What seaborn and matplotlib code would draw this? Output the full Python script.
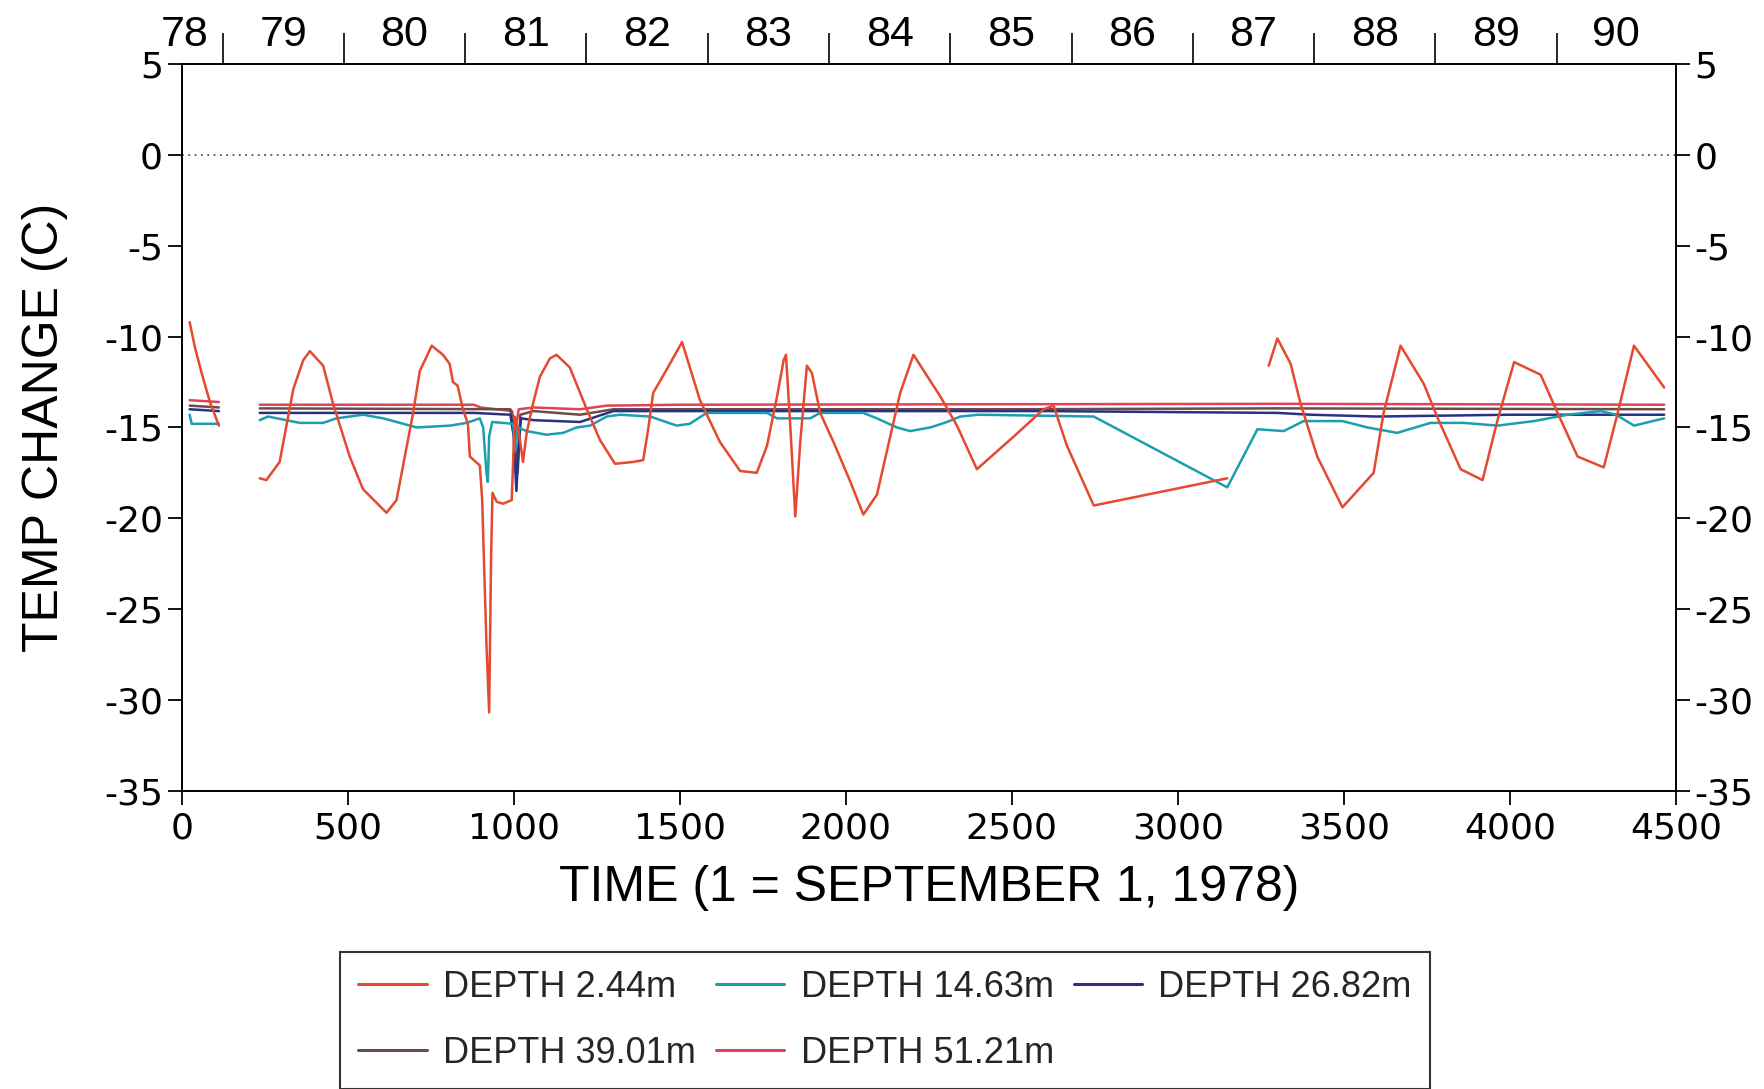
import numpy as np
import pandas as pd
import seaborn as sns
import matplotlib.pyplot as plt
from matplotlib.lines import Line2D

nan = np.nan

# Day number (1 = September 1, 1978) and temperature change (C); NaN marks a gap
d244_day = [24, 40, 60, 85, 112, nan,
            235, 255, 295, 336, 366, 386, 426, 456, 506, 546, 617, 647, 697, 717,
            753, 787, 807, 817, 831, 847, 862, 868, 898, 905, 918, 926, 932, 936,
            949, 968, 994, 1003, 1015, 1028, 1039, 1058, 1079, 1109, 1129, 1169,
            1220, 1260, 1305, 1360, 1390, 1405, 1420, 1461, 1507, 1561, 1621, 1682,
            1732, 1763, 1793, 1813, 1820, 1832, 1848, 1863, 1883, 1898, 1923, 1963,
            2014, 2053, 2094, 2134, 2164, 2204, 2285, 2335, 2395, 2506, 2596, 2626,
            2666, 2747, 3149, nan,
            3274, 3300, 3340, 3370, 3420, 3496, 3590, 3620, 3671, 3741, 3781, 3852,
            3918, 3963, 4013, 4093, 4144, 4204, 4283, 4325, 4374, 4465]
d244_temp = [-9.2, -10.6, -12.0, -13.6, -14.9, nan,
             -17.8, -17.9, -16.9, -12.9, -11.3, -10.8, -11.6, -13.7, -16.6, -18.4, -19.7, -19.0, -14.2, -11.9,
             -10.5, -11.0, -11.5, -12.5, -12.7, -14.0, -14.8, -16.6, -17.1, -19.0, -27.0, -30.7, -22.0, -18.6,
             -19.1, -19.2, -19.0, -14.4, -15.2, -16.9, -15.3, -13.7, -12.2, -11.2, -11.0, -11.7,
             -14.0, -15.7, -17.0, -16.9, -16.8, -15.1, -13.1, -11.8, -10.3, -13.5, -15.8, -17.4,
             -17.5, -16.0, -13.3, -11.3, -11.0, -14.6, -19.9, -15.8, -11.6, -12.0, -14.2, -15.8,
             -18.0, -19.8, -18.7, -15.5, -13.1, -11.0, -13.3, -14.9, -17.3, -15.5, -14.0, -13.8,
             -16.0, -19.3, -17.8, nan,
             -11.6, -10.1, -11.5, -13.7, -16.6, -19.4, -17.5, -14.2, -10.5, -12.6, -14.4, -17.3,
             -17.9, -14.6, -11.4, -12.1, -14.2, -16.6, -17.2, -14.2, -10.5, -12.8]

d1463_day = [24, 30, 112, nan,
             235, 260, 356, 426, 466, 546, 607, 708, 808, 858, 898, 908, 918, 922, 926,
             935, 998, 1005, 1012, 1039, 1099, 1149, 1189, 1230, 1280, 1320, 1411, 1491,
             1530, 1581, 1763, 1793, 1893, 1923, 2053, 2094, 2154, 2194, 2255, 2305, 2345,
             2400, 2747, 3149, 3240, 3319, 3379, 3496, 3571, 3661, 3761, 3862, 3963, 4073,
             4174, 4274, 4320, 4374, 4465]
d1463_temp = [-14.3, -14.8, -14.8, nan,
              -14.6, -14.4, -14.75, -14.75, -14.5, -14.3, -14.5, -15.0, -14.9, -14.75, -14.5, -15.0, -17.5, -18.0, -15.5,
              -14.7, -14.8, -16.3, -15.0, -15.2, -15.4, -15.3, -15.0, -14.9, -14.4, -14.3, -14.4, -14.9,
              -14.8, -14.2, -14.2, -14.5, -14.5, -14.2, -14.2, -14.5, -15.0, -15.2, -15.0, -14.7, -14.4,
              -14.3, -14.4, -18.3, -15.1, -15.2, -14.65, -14.65, -15.0, -15.3, -14.75, -14.75, -14.9, -14.65,
              -14.3, -14.1, -14.3, -14.9, -14.5]

d2682_day = [24, 112, nan, 235, 880, 990, 1000, 1008, 1015, 1022, 1060, 1200, 1250, 1300,
             2000, 2600, 3300, 3400, 3600, 4000, 4465]
d2682_temp = [-14.0, -14.1, nan, -14.2, -14.2, -14.3, -15.5, -18.5, -16.0, -14.5, -14.6, -14.7, -14.4, -14.1,
              -14.1, -14.1, -14.2, -14.3, -14.4, -14.3, -14.3]

d3901_day = [24, 112, nan, 235, 990, 1005, 1012, 1020, 1060, 1200, 1300, 2500, 3300, 4465]
d3901_temp = [-13.8, -13.9, nan, -13.95, -14.0, -15.5, -17.5, -14.3, -14.1, -14.3, -14.0, -14.0, -13.95, -14.0]

d5121_day = [24, 112, nan, 235, 880, 900, 995, 1005, 1015, 1060, 1200, 1280, 1500, 3300, 4465]
d5121_temp = [-13.5, -13.6, nan, -13.75, -13.75, -13.9, -14.1, -15.2, -14.0, -13.9, -14.0, -13.8, -13.75, -13.7, -13.75]

labels = ["DEPTH 2.44m", "DEPTH 14.63m", "DEPTH 26.82m", "DEPTH 39.01m", "DEPTH 51.21m"]
colors = ["#e5492f", "#1a9fae", "#2b2f86", "#6a4c48", "#e0415c"]

year_labels = ["78", "79", "80", "81", "82", "83", "84", "85", "86", "87", "88", "89", "90"]

series = [(labels[0], d244_day, d244_temp), (labels[1], d1463_day, d1463_temp),
          (labels[2], d2682_day, d2682_temp), (labels[3], d3901_day, d3901_temp),
          (labels[4], d5121_day, d5121_temp)]

rows = []
for name, days, temps in series:
    seg = 0
    for d, t in zip(days, temps):
        if np.isnan(t):
            seg += 1
            continue
        rows.append((name, seg, d, t))
df = pd.DataFrame(rows, columns=["series", "seg", "day", "temp"])

sns.set_theme(style="white")
plt.rcParams['font.family'] = ['Liberation Sans', 'DejaVu Sans']
plt.rcParams['axes.unicode_minus'] = False

fig = plt.figure(figsize=(17.64, 10.89), dpi=100)
ax = fig.add_axes([0.103, 0.274, 0.847, 0.667])

# deepest first so the shallow (red) trace sits on top
sns.lineplot(data=df, x="day", y="temp", hue="series", units="seg", estimator=None,
             sort=False, hue_order=labels[::-1], palette=dict(zip(labels, colors)),
             linewidth=1.8, legend=False, ax=ax)

ax.axhline(0, color="#555555", linestyle=(0, (1, 2.5)), linewidth=1.3)

ax.set_xlim(0, 4500)
ax.set_ylim(-35, 5)
ax.set_xticks(range(0, 4501, 500))
ax.set_yticks(range(-35, 6, 5))
ax.tick_params(axis="both", direction="out", length=10, width=1.3, labelsize=26,
               colors="black", left=True, bottom=True, right=True, labelright=True)
ax.tick_params(axis="x", pad=5)
for lab in ax.get_xticklabels() + ax.get_yticklabels():
    lab.set_family("DejaVu Sans")
for s in ax.spines.values():
    s.set_color("black")
    s.set_linewidth(1.4)

ax.set_xlabel("TIME (1 = SEPTEMBER 1, 1978)", fontsize=36, labelpad=14, color="black")
ax.set_ylabel("TEMP CHANGE (C)", fontsize=36, labelpad=26, color="black")

# year axis on top: ticks on Jan 1, labels centred in each year
start = pd.Timestamp("1978-09-01")
bounds = [(pd.Timestamp(f"19{y}-01-01") - start).days + 1 for y in range(79, 91)]
mids = [10] + [(a + b) / 2 for a, b in zip(bounds[:-1], bounds[1:])] + [(bounds[-1] + 4500) / 2]
top = ax.twiny()
top.set_xlim(0, 4500)
top.set_xticks(bounds)
top.set_xticklabels([])
top.set_xticks(mids, minor=True)
top.set_xticklabels(year_labels, minor=True)
top.tick_params(axis="x", which="major", direction="out", length=22, width=1.2, color="black")
top.tick_params(axis="x", which="minor", length=0, pad=7, labelsize=31, colors="black")
for s in top.spines.values():
    s.set_visible(False)

handles = [Line2D([], [], color=c, linewidth=2.2) for c in colors]
order = [0, 3, 1, 4, 2]
leg = fig.legend([handles[i] for i in order], [labels[i] for i in order],
                 loc="upper left", bbox_to_anchor=(340 / 1764, 1 - 952 / 1089), ncol=3,
                 borderaxespad=0, fontsize=26, handlelength=1.9, handletextpad=0.45,
                 columnspacing=0.55, labelspacing=0.85, borderpad=0.5,
                 fancybox=False, frameon=True)
leg.get_frame().set_edgecolor("black")
leg.get_frame().set_linewidth(1.5)

fig.savefig("out.png", dpi=100, facecolor="white")
